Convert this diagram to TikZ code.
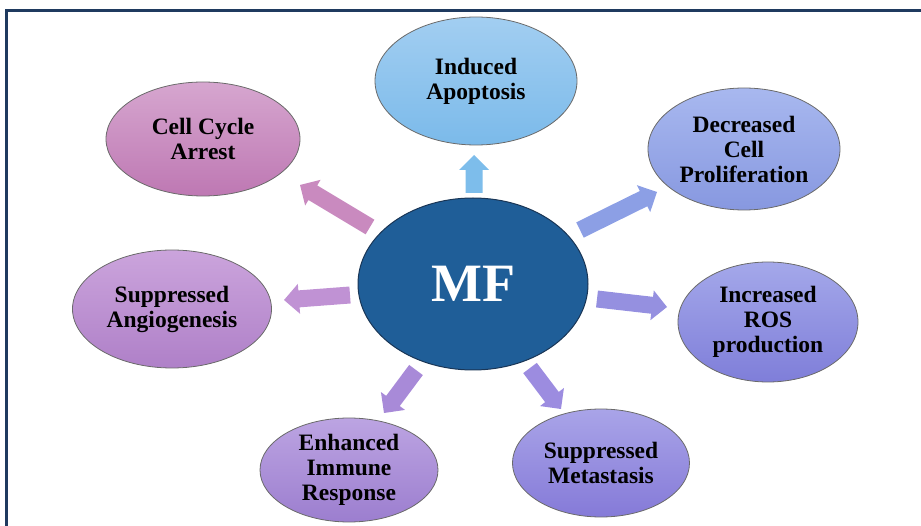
\documentclass[tikz,border=0pt]{standalone}
\usepackage{fontspec}
\setmainfont{Liberation Serif}
\usetikzlibrary{calc,shapes.geometric}
\definecolor{framecol}{HTML}{1F3A5F}
\definecolor{bubline}{HTML}{6A6A6A}
\definecolor{mffill}{HTML}{1F5E98}
\definecolor{mfline}{HTML}{1A3656}
\definecolor{apoT}{HTML}{A2CEF1}\definecolor{apoB}{HTML}{7BBAEA}
\definecolor{cccT}{HTML}{D6A6CF}\definecolor{cccB}{HTML}{BE78B3}
\definecolor{decT}{HTML}{A8B8EF}\definecolor{decB}{HTML}{8798E0}
\definecolor{rosT}{HTML}{A4A8EA}\definecolor{rosB}{HTML}{7F7ED9}
\definecolor{angT}{HTML}{CBA4DC}\definecolor{angB}{HTML}{AF80C8}
\definecolor{immT}{HTML}{BCA4E2}\definecolor{immB}{HTML}{9C7ECF}
\definecolor{metT}{HTML}{A9A4E8}\definecolor{metB}{HTML}{857AD8}
\definecolor{arApo}{HTML}{7DBDEB}
\definecolor{arCcc}{HTML}{C98ABF}
\definecolor{arDec}{HTML}{8C9FE5}
\definecolor{arRos}{HTML}{9590E0}
\definecolor{arAng}{HTML}{C092D4}
\definecolor{arImm}{HTML}{A88AD8}
\definecolor{arMet}{HTML}{9C8CE0}
% block arrow: #1 tail coordinate, #2 tip coordinate, #3 colour
\newcommand\blockarrow[3]{%
  \path ($(#2)!15pt!(#1)$) coordinate (#2h);
  \fill[#3] ($(#1)!8.5pt!90:(#2)$) -- ($(#2h)!8.5pt!90:(#2)$) -- ($(#2h)!15pt!90:(#2)$)
    -- (#2) -- ($(#2h)!15pt!-90:(#2)$) -- ($(#2h)!8.5pt!-90:(#2)$) -- ($(#1)!8.5pt!-90:(#2)$) -- cycle;}
\begin{document}
\begin{tikzpicture}[x=1pt,y=-1pt,
  bub/.style={ellipse, draw=bubline, line width=0.8pt, inner sep=0pt, align=center,
    font=\fontsize{23.5}{25}\selectfont\bfseries, text=black},
  mfbub/.style={ellipse, draw=mfline, line width=1pt, fill=mffill, inner sep=0pt,
    font=\fontsize{54}{60}\selectfont\bfseries, text=white}]
\useasboundingbox (0,0) rectangle (921,526);
\begin{scope}
  \clip (0,0) rectangle (921,526);
  \draw[framecol, line width=3pt] (6,10.5) rectangle (940,545);
\end{scope}
% centre
\node[mfbub, minimum width=230pt, minimum height=172pt] (mf) at (473,284) {MF};
% outer bubbles
\node[bub, minimum width=202pt, minimum height=128pt, top color=apoT, bottom color=apoB] (apo) at (476,81) {Induced\\Apoptosis};
\node[bub, minimum width=194pt, minimum height=114pt, top color=cccT, bottom color=cccB] (ccc) at (203,139) {Cell Cycle\\Arrest};
\node[bub, minimum width=192pt, minimum height=122pt, top color=decT, bottom color=decB] (dec) at (744,149) {Decreased\\Cell\\Proliferation};
\node[bub, minimum width=180pt, minimum height=120pt, top color=rosT, bottom color=rosB] (ros) at (768,322) {Increased\\ROS\\production};
\node[bub, minimum width=199pt, minimum height=118pt, top color=angT, bottom color=angB] (ang) at (172,309) {Suppressed\\Angiogenesis};
\node[bub, minimum width=178pt, minimum height=104pt, top color=immT, bottom color=immB] (imm) at (349,470) {Enhanced\\Immune\\Response};
\node[bub, minimum width=177pt, minimum height=108pt, top color=metT, bottom color=metB] (met) at (601,463) {Suppressed\\Metastasis};
% arrow ends
\coordinate (tApo) at (474,193); \coordinate (pApo) at (474,155);
\coordinate (tCcc) at (370,227); \coordinate (pCcc) at (300,185);
\coordinate (tDec) at (580,230); \coordinate (pDec) at (657,192);
\coordinate (tRos) at (597,299); \coordinate (pRos) at (667,307);
\coordinate (tAng) at (350,295); \coordinate (pAng) at (284,300);
\coordinate (tImm) at (416,370); \coordinate (pImm) at (384,413);
\coordinate (tMet) at (530,368); \coordinate (pMet) at (561,409);
\blockarrow{tApo}{pApo}{arApo}
\blockarrow{tCcc}{pCcc}{arCcc}
\blockarrow{tDec}{pDec}{arDec}
\blockarrow{tRos}{pRos}{arRos}
\blockarrow{tAng}{pAng}{arAng}
\blockarrow{tImm}{pImm}{arImm}
\blockarrow{tMet}{pMet}{arMet}
\end{tikzpicture}
\end{document}
